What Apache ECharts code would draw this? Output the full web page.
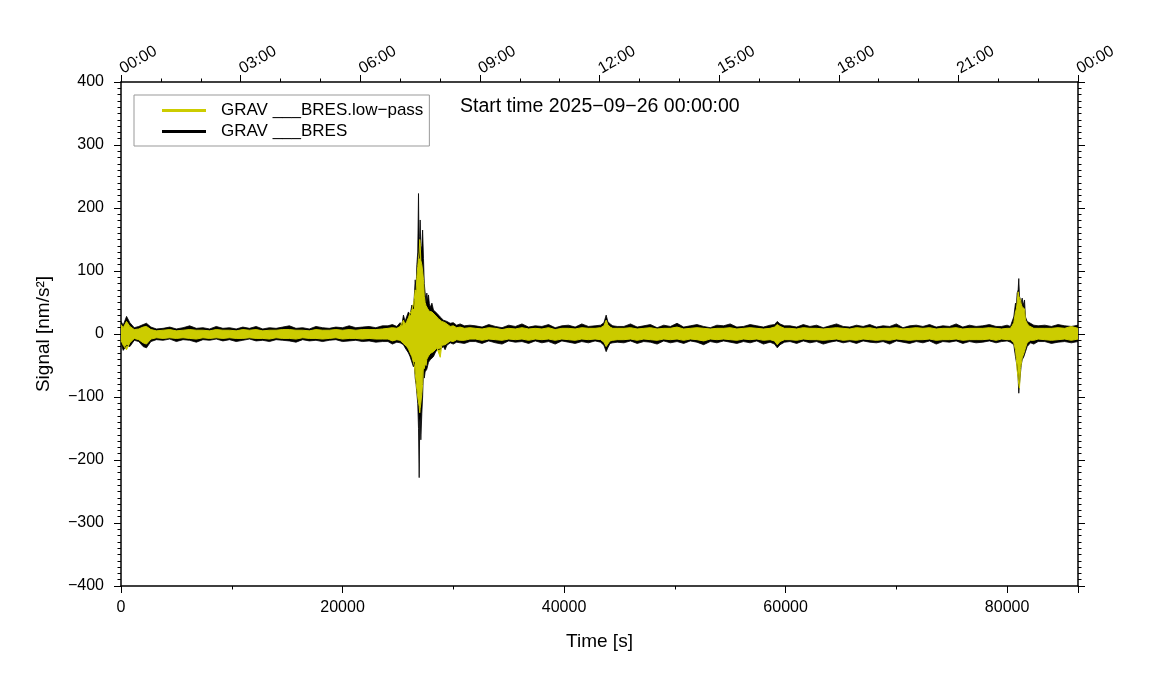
<!DOCTYPE html>
<html>
<head>
<meta charset="utf-8">
<script src="https://cdn.jsdelivr.net/npm/echarts@6/dist/echarts.min.js"></script>
<style>html,body{margin:0;padding:0;background:#fff}#c{width:1151px;height:700px}</style>
</head>
<body>
<div id="c"></div>
<script>
// Envelope of the signals (max / min within each time step)
const time = [
  0,200,500,800,1200,1600,2000,2300,2700,3200,
  3800,4400,5000,5600,6200,6800,7400,8000,8600,9200,9800,10400,11000,11600,12200,12800,13400,14000,14600,15200,15800,16400,17000,17600,18200,18800,19400,20000,20600,21200,21800,22400,23000,23600,
  24100,24500,24900,25200,25350,25500,25650,25800,25950,26100,26260,26400,26480,26560,26640,26710,26790,26860,26920,26970,27010,27070,27160,27230,27310,27380,27460,27540,27610,27690,27760,27840,27910,28070,28210,28360,28520,28670,28820,28960,29110,29260,29420,29720,30000,30300,30620,31000,31500,
  32000,32600,33200,33800,34400,35000,35600,36200,36800,37400,38000,38600,39200,39800,40400,41000,41600,42200,42800,
  43300,43600,43800,43950,44150,44400,44800,
  45400,46000,46600,47200,47800,48400,49000,49600,50200,50800,51400,52000,52600,53200,53800,54400,55000,55600,56200,56800,57400,58000,58600,
  59000,59250,59500,59900,
  60400,61000,61600,62200,62800,63400,64000,64600,65200,65800,66400,67000,67600,68200,68800,69400,70000,70600,71200,71800,72400,73000,73600,74200,74800,75400,76000,76600,77200,77800,78400,79000,
  79500,80000,80300,80450,80600,80755,80840,80905,80995,81055,81115,81205,81270,81360,81440,81510,81570,81660,81810,81960,82110,82410,82800,
  83400,84000,84600,85200,85800,86400
];
const blackHigh = [
  20,14,28,18,10,12,15,17,11,8,
  9,11,8,10,13,9,10,8,12,9,10,8,11,9,12,8,10,9,11,13,9,10,8,12,10,9,11,10,13,10,11,12,10,13,
  13,15,12,18,14,30,20,28,35,30,46,40,60,86,70,110,130,223,120,155,181,130,140,165,120,80,65,50,65,52,62,48,42,49,38,41,33,30,27,25,22,24,20,17,18,14,16,13,14,
  13,11,15,12,10,14,12,16,11,13,12,15,10,13,14,11,16,12,13,
  14,18,30,20,16,13,12,
  12,16,11,13,15,10,14,12,17,11,13,15,12,10,14,13,16,11,12,15,13,11,14,
  15,20,16,13,
  13,11,15,12,14,10,13,16,12,11,14,12,15,11,13,12,16,10,13,14,12,15,11,13,12,16,11,14,12,13,15,12,
  12,14,12,20,27,49,45,65,70,88,60,62,50,57,45,50,54,27,20,18,17,14,13,
  14,12,15,13,12,14
];
const blackLow = [
  -14,-26,-18,-20,-10,-12,-20,-22,-12,-9,
  -10,-8,-12,-9,-10,-13,-9,-10,-8,-11,-9,-12,-10,-8,-11,-10,-12,-9,-10,-11,-13,-9,-11,-10,-12,-10,-9,-12,-11,-10,-12,-11,-13,-12,
  -12,-16,-13,-14,-12,-17,-22,-25,-30,-36,-36,-52,-45,-70,-80,-94,-110,-150,-228,-140,-130,-168,-126,-100,-57,-70,-60,-58,-56,-50,-45,-48,-41,-38,-36,-30,-25,-28,-24,-22,-20,-25,-18,-14,-16,-13,-14,-15,-12,
  -12,-15,-11,-14,-16,-11,-13,-12,-15,-11,-14,-12,-16,-11,-13,-15,-12,-14,-11,
  -13,-18,-28,-22,-15,-14,-13,
  -14,-11,-15,-12,-13,-16,-11,-14,-12,-15,-11,-13,-17,-12,-14,-11,-13,-15,-12,-14,-11,-16,-13,
  -16,-22,-17,-13,
  -12,-15,-11,-14,-12,-16,-13,-11,-14,-12,-15,-11,-13,-14,-12,-16,-11,-13,-15,-12,-14,-11,-16,-12,-13,-11,-15,-12,-14,-13,-11,-14,
  -12,-11,-13,-14,-17,-36,-45,-52,-70,-94,-80,-62,-50,-41,-40,-36,-33,-28,-20,-17,-14,-16,-12,
  -12,-15,-13,-12,-14,-12
];
const yellowHigh = [
  15,10,20,12,7,8,11,12,7,5,
  6,7,5,6,7,6,6,5,7,6,6,5,7,6,7,5,6,6,7,7,6,6,5,7,6,6,7,6,7,6,7,7,7,8,
  9,10,9,12,10,22,15,20,26,33,38,48,55,70,65,90,107,120,130,150,145,117,110,100,86,60,50,45,43,40,42,36,38,35,38,30,28,24,22,20,17,18,15,12,13,10,11,9,10,
  9,8,10,9,7,9,8,10,8,9,8,10,7,9,9,8,10,9,9,
  10,13,22,15,11,9,9,
  9,10,8,9,10,8,9,9,11,8,9,10,9,8,9,9,10,8,9,10,9,8,9,
  11,15,12,9,
  9,8,10,9,9,8,9,10,9,8,10,9,10,8,9,9,10,8,9,10,9,10,8,9,9,10,8,9,9,9,10,9,
  8,9,9,13,18,35,40,49,67,60,58,54,48,43,40,42,40,22,17,13,11,9,9,
  9,9,10,9,12,9
];
const yellowLow = [
  -10,-18,-25,-14,-7,-9,-14,-16,-8,-6,
  -7,-6,-7,-6,-7,-8,-6,-7,-6,-7,-6,-7,-7,-6,-7,-7,-8,-6,-7,-7,-8,-6,-7,-7,-8,-7,-6,-8,-7,-7,-8,-7,-8,-8,
  -8,-11,-9,-10,-9,-15,-17,-20,-24,-30,-36,-45,-50,-62,-75,-88,-100,-108,-115,-125,-118,-110,-94,-80,-50,-55,-46,-50,-40,-42,-35,-38,-31,-30,-28,-26,-22,-20,-37,-18,-16,-17,-14,-11,-12,-9,-10,-10,-8,
  -8,-10,-8,-9,-10,-8,-9,-8,-10,-8,-9,-8,-10,-8,-9,-10,-8,-9,-8,
  -9,-13,-20,-16,-11,-10,-9,
  -9,-8,-10,-8,-9,-10,-8,-9,-8,-10,-8,-9,-11,-8,-9,-8,-9,-10,-8,-9,-8,-10,-9,
  -11,-17,-12,-9,
  -9,-10,-8,-9,-9,-10,-9,-8,-10,-9,-10,-8,-9,-10,-9,-10,-8,-9,-10,-9,-9,-8,-10,-9,-9,-8,-10,-9,-9,-9,-8,-10,
  -8,-9,-9,-11,-14,-25,-40,-57,-70,-80,-86,-55,-52,-38,-35,-31,-28,-22,-14,-12,-10,-10,-8,
  -9,-10,-9,-8,-10,-8
];
const yTicks = [-400,-300,-200,-100,0,100,200,300,400];
const nameLow = 'GRAV ___BRES.low\u2212pass';
const nameRaw = 'GRAV ___BRES';

[blackHigh, blackLow, yellowHigh, yellowLow].forEach((a, k) => {
  if (a.length !== time.length) throw new Error('array ' + k + ' length ' + a.length + ' vs ' + time.length);
});

const FONT = 'Liberation Sans, Arial, Helvetica, sans-serif';
const zip = (a) => time.map((t, i) => [t, a[i]]);
const minus = (v) => (v < 0 ? '\u2212' + (-v) : String(v));
const pad = (n) => (n < 10 ? '0' + n : '' + n);

const baseAxis = {
  axisLine: { show: true, onZero: false, lineStyle: { color: '#000', width: 1.5 } },
  axisTick: { show: true, inside: false, length: 7, lineStyle: { color: '#000', width: 1 } },
  minorTick: { show: true, length: 3.5, lineStyle: { color: '#000', width: 1 } },
  splitLine: { show: false },
  minorSplitLine: { show: false },
  axisLabel: { color: '#000', fontFamily: FONT, fontSize: 16 }
};

function band(name, color, data, w) {
  return {
    name: name, type: 'line', data: data, xAxisIndex: 0, yAxisIndex: 0,
    showSymbol: false, symbol: 'none', sampling: false, animation: false,
    lineStyle: { color: color, width: w },
    itemStyle: { color: color },
    areaStyle: { color: color, opacity: 1, origin: 'auto' },
    emphasis: { disabled: true }
  };
}

const chart = echarts.init(document.getElementById('c'), null, { renderer: 'canvas' });
chart.setOption({
  animation: false,
  backgroundColor: '#fff',
  textStyle: { fontFamily: FONT },
  title: {
    text: 'Start time 2025\u221209\u221226 00:00:00',
    left: 455, top: 92,
    textStyle: { fontFamily: FONT, fontSize: 19.5, fontWeight: 'normal', color: '#000' }
  },
  legend: {
    orient: 'vertical', left: 134, top: 95,
    padding: [7, 6, 6, 28], itemGap: 4,
    itemWidth: 44, itemHeight: 3,
    backgroundColor: '#fff', borderColor: '#999', borderWidth: 1, borderRadius: 0,
    textStyle: { fontFamily: FONT, fontSize: 17, color: '#000', padding: [0, 0, 0, 10] },
    data: [{ name: nameLow, icon: 'rect' }, { name: nameRaw, icon: 'rect' }],
    selectedMode: false
  },
  grid: { left: 121, right: 73, top: 82, bottom: 114, containLabel: false },
  xAxis: [
    Object.assign({}, baseAxis, {
      type: 'value', position: 'bottom', min: 0, max: 86400, interval: 20000,
      minorTick: Object.assign({}, baseAxis.minorTick, { splitNumber: 2 }),
      axisLabel: Object.assign({}, baseAxis.axisLabel, { margin: 14, showMaxLabel: false, formatter: (v) => String(v) }),
      name: 'Time [s]', nameLocation: 'middle', nameGap: 46,
      nameTextStyle: { fontFamily: FONT, fontSize: 19, color: '#000' }
    }),
    Object.assign({}, baseAxis, {
      type: 'value', position: 'top', min: 0, max: 86400, interval: 10800,
      minorTick: Object.assign({}, baseAxis.minorTick, { splitNumber: 3 }),
      axisLabel: Object.assign({}, baseAxis.axisLabel, {
        margin: 12, rotate: -30, showMaxLabel: true, showMinLabel: true,
        formatter: (v) => pad(Math.round(v / 3600) % 24) + ':00'
      })
    })
  ],
  yAxis: [
    Object.assign({}, baseAxis, {
      type: 'value', position: 'left', min: yTicks[0], max: yTicks[yTicks.length - 1], interval: 100,
      minorTick: Object.assign({}, baseAxis.minorTick, { splitNumber: 10 }),
      axisLabel: Object.assign({}, baseAxis.axisLabel, { margin: 17, formatter: minus }),
      name: 'Signal [nm/s\u00b2]', nameLocation: 'middle', nameGap: 68, nameRotate: 90,
      nameTextStyle: { fontFamily: FONT, fontSize: 19, color: '#000' }
    }),
    Object.assign({}, baseAxis, {
      type: 'value', position: 'right', min: yTicks[0], max: yTicks[yTicks.length - 1], interval: 100,
      minorTick: Object.assign({}, baseAxis.minorTick, { splitNumber: 10 }),
      axisLabel: { show: false }
    })
  ],
  series: [
    band(nameRaw, '#000000', zip(blackHigh), 0.8),
    band(nameRaw, '#000000', zip(blackLow), 0.8),
    band(nameLow, '#cccc00', zip(yellowHigh), 1),
    band(nameLow, '#cccc00', zip(yellowLow), 1)
  ]
});
</script>
</body>
</html>
